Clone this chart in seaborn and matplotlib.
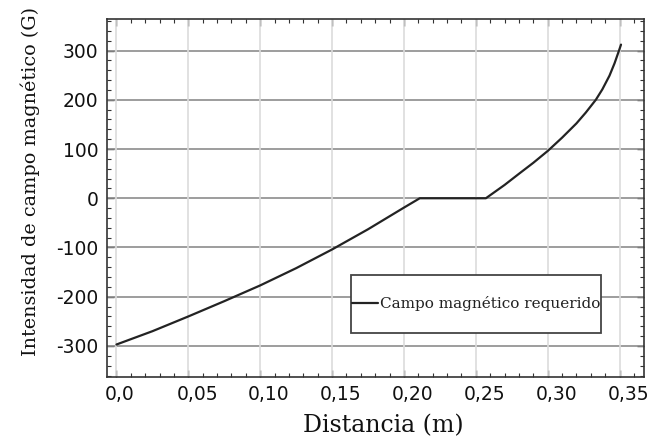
import matplotlib
matplotlib.use("Agg")
import matplotlib.pyplot as plt
import matplotlib.transforms as mtransforms
from matplotlib.patches import Rectangle
from matplotlib.ticker import FixedLocator, MultipleLocator
import numpy as np
import pandas as pd
import seaborn as sns

# Required magnetic field along the distance (m -> G)
distancia = [0.000, 0.025, 0.050, 0.075, 0.100, 0.125, 0.150, 0.175, 0.200, 0.211,
             0.257, 0.270, 0.2806, 0.290, 0.300, 0.3015, 0.310, 0.320, 0.3265,
             0.3335, 0.338, 0.343, 0.3465, 0.3495, 0.351]
campo = [-297, -270, -240, -209, -177, -142, -104, -63, -19, 0,
         0, 27, 51, 72, 96, 100, 123, 152, 174,
         200, 221, 249, 274, 299, 312]

serie = "Campo magnético requerido"
x_ticks = [0.0, 0.05, 0.10, 0.15, 0.20, 0.25, 0.30, 0.35]
x_tick_labels = ["0,0", "0,05", "0,10", "0,15", "0,20", "0,25", "0,30", "0,35"]
y_ticks = [-300, -200, -100, 0, 100, 200, 300]
y_tick_labels = ["-300", "-200", "-100", "0", "100", "200", "300"]

df = pd.DataFrame({"Distancia": distancia, "Campo": campo})

sns.set_theme(style="white")
plt.rcParams["font.family"] = ["DejaVu Sans"]

fig = plt.figure(figsize=(6.52, 4.42), dpi=100)
ax = fig.add_axes([107 / 652, 1 - 377 / 442, (644 - 107) / 652, (377 - 19) / 442])

sns.lineplot(data=df, x="Distancia", y="Campo", ax=ax, color="#232323",
             linewidth=1.6, estimator=None, sort=False, label=serie, zorder=4)

ax.set_xlim(-0.0066, 0.367)
ax.set_ylim(-363, 364)

ax.xaxis.set_major_locator(FixedLocator(x_ticks))
ax.xaxis.set_minor_locator(MultipleLocator(0.01))
ax.yaxis.set_major_locator(FixedLocator(y_ticks))
ax.yaxis.set_minor_locator(MultipleLocator(20))
ax.set_xticklabels(x_tick_labels)
ax.set_yticklabels(y_tick_labels)

ax.tick_params(which="both", direction="in", top=True, right=True,
               bottom=True, left=True, color="#333333")
ax.tick_params(which="major", length=5, width=1.0, labelsize=13.5,
               labelcolor="#111111", pad=6)
ax.tick_params(which="minor", length=3, width=0.8)

# Tick labels on the x axis start slightly left of their tick
offset = mtransforms.ScaledTranslation(-12 / 100, 0, fig.dpi_scale_trans)
for lab in ax.get_xticklabels():
    lab.set_horizontalalignment("left")
    lab.set_transform(lab.get_transform() + offset)

# Grid: darker horizontal lines, faint vertical lines
for yv in y_ticks:
    ax.axhline(yv, color="#8c8c8c", linewidth=1.2, zorder=1)
for xv in x_ticks:
    ax.axvline(xv, color="#dcdcdc", linewidth=1.2, zorder=1)

for sp in ax.spines.values():
    sp.set_color("#333333")
    sp.set_linewidth(1.2)

ax.set_xlabel("Distancia (m)", family="DejaVu Serif", fontsize=17,
              color="#111111", labelpad=9)
ax.xaxis.set_label_coords(0.514, -0.105)
ax.xaxis.label.set_verticalalignment("top")
ax.set_ylabel("Intensidad de campo magnético (G)", family="DejaVu Serif",
              fontsize=13.8, color="#111111")
ax.yaxis.set_label_coords(-0.125, 0.545)

# Legend box
ax.add_patch(Rectangle((0.4544, 0.1229), 0.4656, 0.162, transform=ax.transAxes,
                       facecolor="white", edgecolor="#444444", linewidth=1.3,
                       zorder=5))
leg = ax.legend(loc="center", bbox_to_anchor=(0.687, 0.204), frameon=False,
                borderpad=0, handlelength=1.7, handletextpad=0.15,
                prop={"family": "DejaVu Serif", "size": 11})
leg.set_zorder(6)
for t in leg.get_texts():
    t.set_color("#222222")

fig.savefig("out.png", dpi=100)
